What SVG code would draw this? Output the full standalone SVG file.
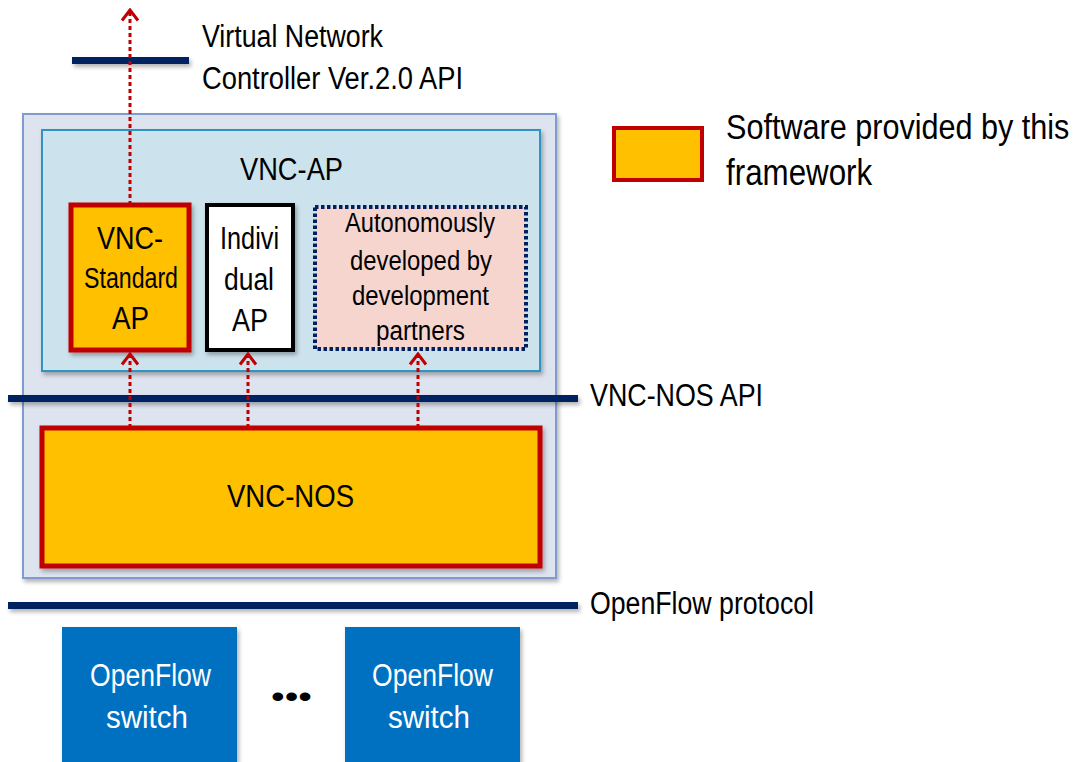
<svg xmlns="http://www.w3.org/2000/svg" width="1077" height="762" viewBox="0 0 1077 762">
<defs>
<filter id="sh" x="-10%" y="-50%" width="130%" height="250%">
<feDropShadow dx="2" dy="3" stdDeviation="2" flood-color="#000" flood-opacity="0.3"/>
</filter>
<marker id="ah" viewBox="0 0 14 20" refX="12" refY="10" markerWidth="14" markerHeight="20" markerUnits="userSpaceOnUse" orient="auto">
<path d="M1.5,2 L12,10 L1.5,18" fill="none" stroke="#c00000" stroke-width="3"/>
</marker>
<style>
text{font-family:"Liberation Sans",Arial,sans-serif;fill:#000;}
.t30{font-size:31px;}
.t28{font-size:31px;}
.t26{font-size:29px;}
.t24{font-size:27px;}
.t34{font-size:36px;}
.w{fill:#fff;}
.bus{fill:#002060;filter:url(#sh);}
.sw{fill:#ffc000;stroke:#c00000;stroke-width:5;}
.dash{stroke:#c00000;stroke-width:3;stroke-dasharray:4 3;fill:none;}
</style>
</defs>
<rect width="1077" height="762" fill="#fff"/>

<g id="outer">
<rect x="23" y="114" width="533" height="464" fill="#dde3ef" stroke="#7f9bd0" stroke-width="2" filter="url(#sh)"/>
</g>
<g id="vnc-ap">
<rect x="42" y="130" width="498" height="241" fill="#cce3ed" stroke="#2f95c2" stroke-width="2" filter="url(#sh)"/>
<text class="t30" x="240" y="180" textLength="103" lengthAdjust="spacingAndGlyphs">VNC-AP</text>
</g>

<g id="top-api">
<rect class="bus" x="72" y="57" width="117" height="7"/>
<text class="t30" x="202" y="47" textLength="181" lengthAdjust="spacingAndGlyphs">Virtual  Network</text>
<text class="t30" x="202" y="89" textLength="261" lengthAdjust="spacingAndGlyphs">Controller  Ver.2.0  API</text>
</g>

<g id="vnc-standard-ap">
<rect class="sw" x="71" y="205" width="118" height="145" filter="url(#sh)"/>
<text class="t28" x="97" y="249" textLength="66" lengthAdjust="spacingAndGlyphs">VNC-</text>
<text class="t26" x="84" y="288" textLength="94" lengthAdjust="spacingAndGlyphs">Standard</text>
<text class="t28" x="112" y="329" textLength="37" lengthAdjust="spacingAndGlyphs">AP</text>
</g>

<g id="individual-ap">
<rect x="207" y="205" width="86" height="145" fill="#fff" stroke="#000" stroke-width="4" filter="url(#sh)"/>
<text class="t28" x="220" y="249" textLength="59" lengthAdjust="spacingAndGlyphs">Indivi</text>
<text class="t28" x="224" y="290" textLength="50" lengthAdjust="spacingAndGlyphs">dual</text>
<text class="t28" x="232" y="331" textLength="36" lengthAdjust="spacingAndGlyphs">AP</text>
</g>

<g id="partners-ap">
<rect x="315" y="207" width="211" height="142" fill="#f6d5cf" stroke="#002060" stroke-width="4" stroke-dasharray="3.5 2.5"/>
<text class="t24" x="345" y="232" textLength="150" lengthAdjust="spacingAndGlyphs">Autonomously</text>
<text class="t24" x="350" y="270" textLength="142" lengthAdjust="spacingAndGlyphs">developed by</text>
<text class="t24" x="352" y="305" textLength="137" lengthAdjust="spacingAndGlyphs">development</text>
<text class="t24" x="376" y="340" textLength="89" lengthAdjust="spacingAndGlyphs">partners</text>
</g>

<g id="vnc-nos-api">
<rect class="bus" x="8" y="395" width="570" height="7"/>
<text class="t30" x="590" y="406" textLength="173" lengthAdjust="spacingAndGlyphs">VNC-NOS API</text>
</g>

<g id="vnc-nos">
<rect class="sw" x="42" y="428" width="498" height="138" filter="url(#sh)"/>
<text class="t30" x="227" y="507" textLength="127" lengthAdjust="spacingAndGlyphs">VNC-NOS</text>
</g>

<g id="openflow-protocol">
<rect class="bus" x="8" y="602" width="570" height="7"/>
<text class="t30" x="590" y="614" textLength="224" lengthAdjust="spacingAndGlyphs">OpenFlow  protocol</text>
</g>

<g id="switch1">
<rect x="62" y="627" width="175" height="140" fill="#0070c0" filter="url(#sh)"/>
<text class="t30 w" x="90" y="686" textLength="121" lengthAdjust="spacingAndGlyphs">OpenFlow</text>
<text class="t30 w" x="106" y="728" textLength="82" lengthAdjust="spacingAndGlyphs">switch</text>
</g>
<g id="dots">
<text class="t30" x="271" y="707" textLength="41" lengthAdjust="spacingAndGlyphs">•••</text>
</g>
<g id="switch2">
<rect x="345" y="627" width="175" height="140" fill="#0070c0" filter="url(#sh)"/>
<text class="t30 w" x="372" y="686" textLength="121" lengthAdjust="spacingAndGlyphs">OpenFlow</text>
<text class="t30 w" x="388" y="728" textLength="82" lengthAdjust="spacingAndGlyphs">switch</text>
</g>

<g id="legend">
<rect x="614" y="128" width="88" height="52" fill="#ffc000" stroke="#c00000" stroke-width="4"/>
<text class="t34" transform="translate(726,139) scale(0.85,1)" x="0" y="0">Software provided by this</text>
<text class="t34" transform="translate(726,185) scale(0.87,1)" x="0" y="0">framework</text>
</g>

<g id="connectors">
<line class="dash" x1="130" y1="205" x2="130" y2="10" marker-end="url(#ah)"/>
<line class="dash" x1="130" y1="428" x2="130" y2="354" marker-end="url(#ah)"/>
<line class="dash" x1="248" y1="428" x2="248" y2="354" marker-end="url(#ah)"/>
<line class="dash" x1="418" y1="428" x2="418" y2="354" marker-end="url(#ah)"/>
</g>
</svg>
